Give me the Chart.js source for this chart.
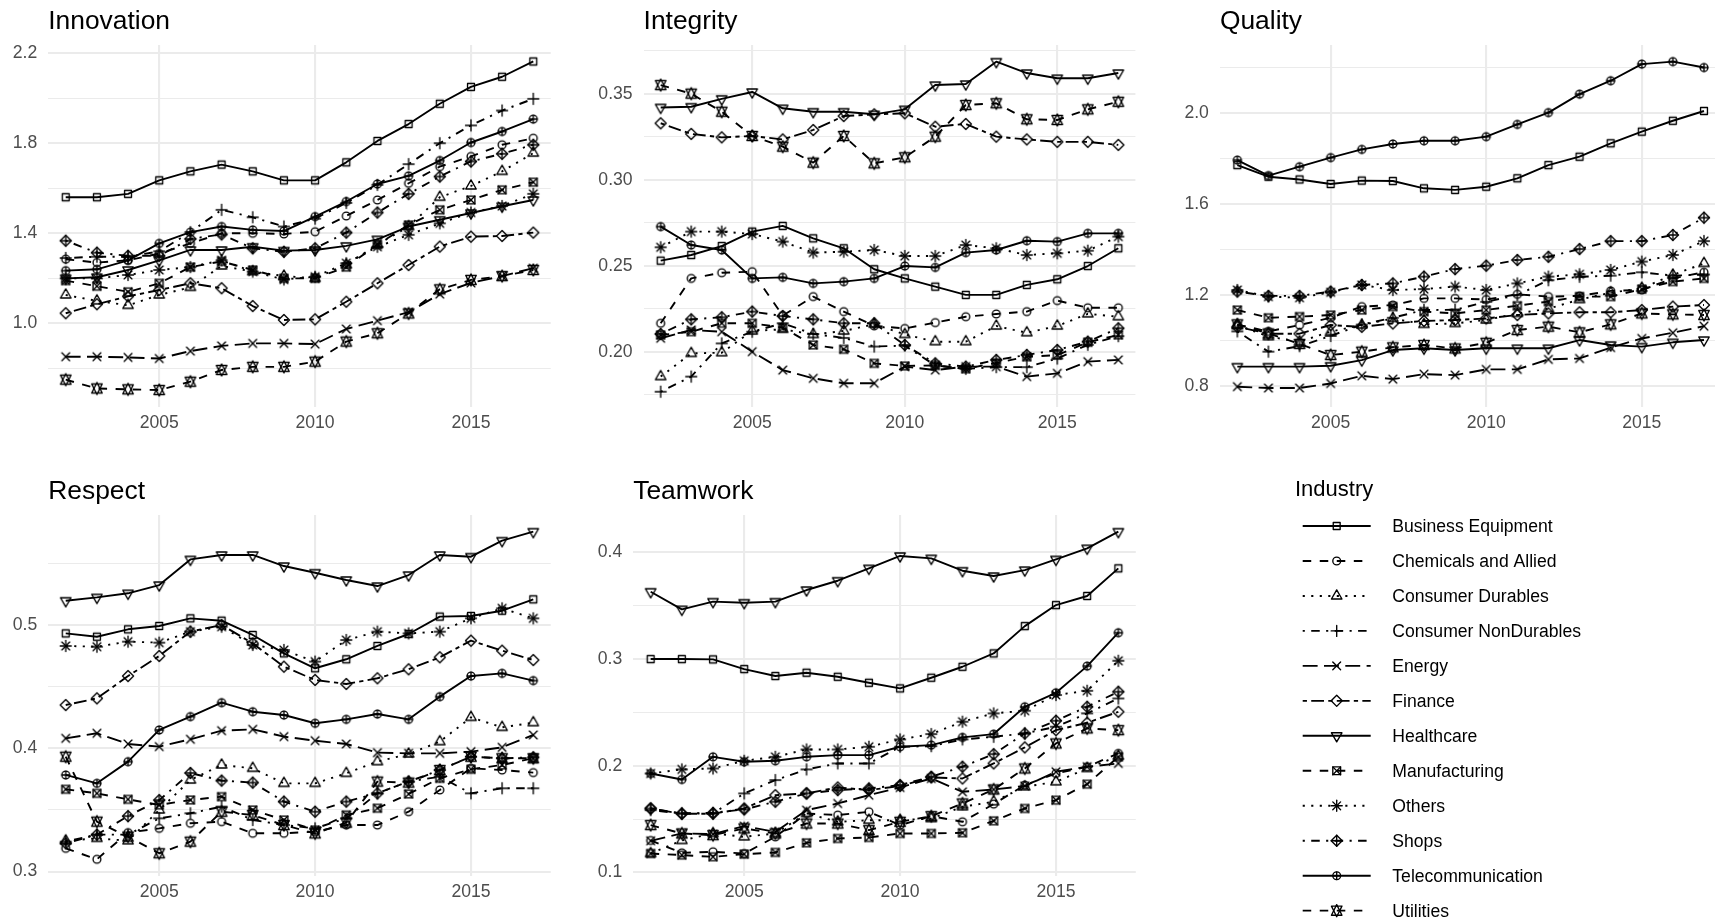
<!DOCTYPE html>
<html>
<head>
<meta charset="utf-8">
<script src="https://cdn.jsdelivr.net/npm/chart.js@4.4.1/dist/chart.umd.min.js"></script>
<style>
  html, body { margin: 0; padding: 0; background: #ffffff; width: 1715px; height: 922px; overflow: hidden; position: relative; }
  canvas { position: absolute; }
</style>
</head>
<body>
<canvas id="overlay" width="1715" height="922" style="left:0;top:0"></canvas>
<script>
// ---- data -----------------------------------------------------------------
const years = [2002, 2003, 2004, 2005, 2006, 2007, 2008, 2009, 2010, 2011, 2012, 2013, 2014, 2015, 2016, 2017];

const industries = [
  'Business Equipment', 'Chemicals and Allied', 'Consumer Durables', 'Consumer NonDurables',
  'Energy', 'Finance', 'Healthcare', 'Manufacturing', 'Others', 'Shops',
  'Telecommunication', 'Utilities'
];

const xTicks = [2005, 2010, 2015];

// one row per industry, in the order of `industries`
const innovation = [
  [1.56, 1.56, 1.575, 1.635, 1.675, 1.705, 1.675, 1.635, 1.635, 1.715, 1.81, 1.885, 1.975, 2.05, 2.095, 2.163],
  [1.285, 1.27, 1.28, 1.31, 1.355, 1.40, 1.40, 1.397, 1.407, 1.477, 1.548, 1.622, 1.696, 1.741, 1.793, 1.822],
  [1.126, 1.10, 1.08, 1.126, 1.16, 1.255, 1.23, 1.21, 1.20, 1.26, 1.35, 1.43, 1.56, 1.61, 1.675, 1.756],
  [1.29, 1.296, 1.296, 1.32, 1.405, 1.504, 1.471, 1.43, 1.465, 1.535, 1.615, 1.707, 1.80, 1.879, 1.945, 1.997],
  [0.852, 0.852, 0.849, 0.844, 0.877, 0.90, 0.911, 0.911, 0.908, 0.975, 1.012, 1.05, 1.13, 1.18, 1.21, 1.245],
  [1.045, 1.085, 1.12, 1.148, 1.178, 1.156, 1.077, 1.015, 1.018, 1.096, 1.178, 1.259, 1.341, 1.385, 1.388, 1.403],
  [1.20, 1.205, 1.237, 1.28, 1.326, 1.326, 1.34, 1.323, 1.326, 1.344, 1.373, 1.43, 1.46, 1.49, 1.52, 1.548],
  [1.19, 1.165, 1.14, 1.178, 1.25, 1.275, 1.237, 1.20, 1.20, 1.25, 1.35, 1.437, 1.504, 1.548, 1.593, 1.627],
  [1.20, 1.20, 1.215, 1.237, 1.25, 1.28, 1.23, 1.195, 1.207, 1.267, 1.34, 1.393, 1.444, 1.492, 1.521, 1.575],
  [1.367, 1.314, 1.30, 1.30, 1.375, 1.395, 1.333, 1.318, 1.333, 1.403, 1.492, 1.575, 1.652, 1.719, 1.753, 1.793],
  [1.234, 1.24, 1.28, 1.355, 1.405, 1.43, 1.415, 1.41, 1.474, 1.541, 1.619, 1.655, 1.723, 1.803, 1.852, 1.907],
  [0.75, 0.711, 0.707, 0.704, 0.741, 0.793, 0.807, 0.807, 0.83, 0.919, 0.956, 1.044, 1.151, 1.193, 1.21, 1.237]
];

const integrity = [
  [0.2529, 0.2562, 0.2614, 0.2698, 0.2731, 0.2659, 0.2601, 0.2479, 0.2426, 0.2378, 0.233, 0.233, 0.2388, 0.2421, 0.2498, 0.2601],
  [0.2165, 0.2426, 0.2459, 0.2465, 0.221, 0.232, 0.2233, 0.215, 0.2135, 0.2169, 0.2203, 0.2219, 0.2233, 0.2297, 0.2255, 0.2255],
  [0.1855, 0.199, 0.1994, 0.212, 0.213, 0.21, 0.212, 0.216, 0.210, 0.2058, 0.2058, 0.2149, 0.211, 0.2149, 0.222, 0.2203],
  [0.1767, 0.1855, 0.2048, 0.2116, 0.2165, 0.2103, 0.208, 0.203, 0.2035, 0.192, 0.19, 0.191, 0.191, 0.196, 0.204, 0.209],
  [0.2078, 0.2126, 0.2116, 0.20, 0.1893, 0.1845, 0.1816, 0.1816, 0.1913, 0.1893, 0.1913, 0.1913, 0.1855, 0.1874, 0.1942, 0.1952],
  [0.3328, 0.3266, 0.3246, 0.3254, 0.3234, 0.3289, 0.337, 0.338, 0.3386, 0.3308, 0.3324, 0.325, 0.3234, 0.322, 0.322, 0.3202],
  [0.342, 0.3424, 0.347, 0.351, 0.3415, 0.3395, 0.3395, 0.338, 0.3409, 0.355, 0.3556, 0.3686, 0.362, 0.359, 0.359, 0.362],
  [0.2097, 0.2116, 0.2165, 0.2165, 0.214, 0.2039, 0.2014, 0.1932, 0.1917, 0.192, 0.19, 0.1935, 0.197, 0.198, 0.2055, 0.2097],
  [0.2607, 0.2698, 0.2698, 0.2684, 0.264, 0.2576, 0.2581, 0.2591, 0.2556, 0.2556, 0.262, 0.2601, 0.2562, 0.2572, 0.2587, 0.2669],
  [0.2103, 0.2188, 0.22, 0.2233, 0.2207, 0.2188, 0.2165, 0.2165, 0.2039, 0.1932, 0.1913, 0.1952, 0.1981, 0.201, 0.2058, 0.2136],
  [0.2727, 0.262, 0.2591, 0.2426, 0.2432, 0.2397, 0.2407, 0.2426, 0.2498, 0.249, 0.2576, 0.2591, 0.2645, 0.264, 0.2688, 0.2688],
  [0.355, 0.350, 0.3395, 0.3254, 0.3192, 0.3099, 0.3254, 0.3095, 0.313, 0.325, 0.3434, 0.3444, 0.3351, 0.3347, 0.3409, 0.3453]
];

const quality = [
  [1.771, 1.72, 1.708, 1.688, 1.703, 1.701, 1.669, 1.662, 1.676, 1.713, 1.771, 1.808, 1.867, 1.918, 1.966, 2.009],
  [1.07, 1.04, 1.068, 1.10, 1.149, 1.156, 1.185, 1.185, 1.18, 1.203, 1.193, 1.196, 1.218, 1.222, 1.273, 1.30],
  [1.068, 1.017, 0.995, 1.039, 1.068, 1.097, 1.071, 1.075, 1.09, 1.119, 1.14, 1.18, 1.21, 1.23, 1.288, 1.339],
  [1.04, 0.951, 0.975, 1.02, 1.07, 1.10, 1.134, 1.135, 1.17, 1.20, 1.265, 1.28, 1.285, 1.30, 1.285, 1.29],
  [0.797, 0.791, 0.791, 0.811, 0.845, 0.83, 0.852, 0.848, 0.873, 0.873, 0.917, 0.921, 0.969, 1.009, 1.034, 1.063],
  [1.06, 1.03, 1.03, 1.068, 1.06, 1.075, 1.086, 1.09, 1.097, 1.112, 1.119, 1.124, 1.124, 1.134, 1.149, 1.156],
  [0.885, 0.885, 0.885, 0.889, 0.914, 0.958, 0.966, 0.958, 0.966, 0.966, 0.966, 1.002, 0.98, 0.973, 0.992, 1.002],
  [1.134, 1.10, 1.105, 1.112, 1.134, 1.149, 1.127, 1.119, 1.134, 1.153, 1.171, 1.193, 1.193, 1.226, 1.259, 1.273],
  [1.222, 1.193, 1.188, 1.212, 1.244, 1.222, 1.226, 1.237, 1.222, 1.251, 1.281, 1.291, 1.31, 1.347, 1.376, 1.437],
  [1.215, 1.196, 1.196, 1.215, 1.244, 1.251, 1.281, 1.314, 1.329, 1.354, 1.368, 1.402, 1.437, 1.437, 1.464, 1.54],
  [1.793, 1.725, 1.764, 1.804, 1.84, 1.864, 1.878, 1.878, 1.896, 1.95, 2.002, 2.083, 2.142, 2.215, 2.226, 2.20],
  [1.071, 1.031, 0.985, 0.936, 0.951, 0.97, 0.98, 0.965, 0.99, 1.046, 1.061, 1.036, 1.071, 1.119, 1.115, 1.112]
];

const respect = [
  [0.4932, 0.4905, 0.4965, 0.4992, 0.5054, 0.5035, 0.4919, 0.477, 0.4649, 0.4722, 0.483, 0.4927, 0.5068, 0.5073, 0.5116, 0.5208],
  [0.3189, 0.31, 0.3316, 0.3351, 0.3392, 0.3405, 0.3311, 0.3311, 0.3324, 0.3378, 0.3378, 0.3486, 0.3662, 0.3838, 0.3824, 0.3803],
  [0.325, 0.327, 0.325, 0.35, 0.3743, 0.3865, 0.3838, 0.3716, 0.3716, 0.3797, 0.3892, 0.3954, 0.4054, 0.4251, 0.417, 0.4208],
  [0.3243, 0.33, 0.33, 0.3432, 0.3473, 0.3527, 0.3419, 0.3378, 0.3351, 0.3432, 0.3635, 0.373, 0.377, 0.3635, 0.3676, 0.3676],
  [0.4081, 0.4122, 0.4035, 0.4014, 0.4073, 0.4143, 0.4154, 0.4095, 0.4062, 0.4035, 0.3965, 0.3959, 0.3959, 0.3973, 0.4008, 0.4108],
  [0.4351, 0.4405, 0.4586, 0.4749, 0.4946, 0.50, 0.4851, 0.4662, 0.4554, 0.4522, 0.4568, 0.4641, 0.4738, 0.4873, 0.4792, 0.4716],
  [0.5197, 0.5224, 0.5257, 0.5324, 0.5532, 0.5568, 0.5568, 0.5478, 0.5424, 0.5365, 0.5316, 0.5405, 0.5568, 0.5554, 0.5684, 0.5757],
  [0.3668, 0.3635, 0.3586, 0.3541, 0.3581, 0.3608, 0.35, 0.3419, 0.3338, 0.3459, 0.3514, 0.363, 0.3757, 0.383, 0.3865, 0.3919],
  [0.483, 0.4824, 0.4865, 0.4857, 0.4946, 0.4986, 0.4838, 0.4797, 0.4703, 0.4878, 0.4946, 0.4932, 0.4946, 0.5054, 0.5135, 0.5054],
  [0.323, 0.33, 0.345, 0.358, 0.38, 0.3738, 0.3722, 0.3568, 0.3486, 0.3568, 0.3635, 0.373, 0.3824, 0.3932, 0.3919, 0.3927],
  [0.3784, 0.3716, 0.3892, 0.4149, 0.4257, 0.437, 0.4297, 0.427, 0.4203, 0.4235, 0.4278, 0.4235, 0.4419, 0.4586, 0.4608, 0.4549],
  [0.3932, 0.3405, 0.3284, 0.3149, 0.3243, 0.3486, 0.3459, 0.3378, 0.331, 0.3397, 0.373, 0.3722, 0.3824, 0.3932, 0.3919, 0.3919]
];

const teamwork = [
  [0.30, 0.30, 0.2997, 0.2906, 0.2841, 0.2872, 0.2834, 0.2778, 0.2725, 0.2825, 0.2928, 0.3053, 0.3309, 0.3506, 0.3591, 0.385],
  [0.13, 0.1184, 0.1194, 0.1178, 0.1334, 0.1553, 0.1538, 0.1569, 0.1444, 0.1528, 0.1475, 0.1641, 0.1819, 0.1928, 0.1991, 0.2116],
  [0.1178, 0.13, 0.1366, 0.1334, 0.1366, 0.1553, 0.1475, 0.149, 0.149, 0.1506, 0.1616, 0.1663, 0.1803, 0.185, 0.1975, 0.2091],
  [0.1584, 0.1553, 0.1553, 0.1741, 0.1866, 0.1966, 0.2022, 0.2022, 0.2178, 0.2184, 0.2247, 0.2272, 0.2303, 0.2366, 0.2491, 0.2631],
  [0.1297, 0.1366, 0.136, 0.1434, 0.1381, 0.1584, 0.1647, 0.1725, 0.1797, 0.1881, 0.1756, 0.1778, 0.181, 0.1944, 0.1991, 0.2022],
  [0.16, 0.155, 0.155, 0.16, 0.1725, 0.1741, 0.1797, 0.1772, 0.181, 0.1891, 0.1881, 0.2022, 0.2172, 0.2334, 0.2403, 0.2506],
  [0.3631, 0.3466, 0.3538, 0.3528, 0.3538, 0.3647, 0.3734, 0.385, 0.3966, 0.3944, 0.3828, 0.3778, 0.3834, 0.3934, 0.4038, 0.4194],
  [0.1178, 0.1163, 0.1147, 0.1172, 0.1188, 0.1278, 0.1319, 0.1328, 0.1366, 0.1366, 0.1372, 0.1484, 0.16, 0.1678, 0.1828, 0.2084],
  [0.1928, 0.1966, 0.1975, 0.2047, 0.2084, 0.2153, 0.2153, 0.2178, 0.2247, 0.2297, 0.2413, 0.2491, 0.2516, 0.2663, 0.2703, 0.2984],
  [0.16, 0.1553, 0.1559, 0.1591, 0.1663, 0.1741, 0.1772, 0.1788, 0.1819, 0.1897, 0.1991, 0.2109, 0.2303, 0.2422, 0.2553, 0.2694],
  [0.1928, 0.1872, 0.2084, 0.2038, 0.2047, 0.2084, 0.21, 0.21, 0.2178, 0.2194, 0.2266, 0.2297, 0.2553, 0.2684, 0.2934, 0.3247],
  [0.1444, 0.1366, 0.135, 0.1413, 0.1366, 0.1459, 0.1459, 0.1397, 0.1475, 0.1528, 0.1647, 0.1778, 0.1975, 0.2209, 0.235, 0.2334]
];

// labelled y ticks and the unlabelled breaks between them
const innovationTicks = ['1.0', '1.4', '1.8', '2.2'];
const innovationMinor = [0.8, 1.2, 1.6, 2.0];
const integrityTicks = ['0.20', '0.25', '0.30', '0.35'];
const integrityMinor = [0.175, 0.225, 0.275, 0.325, 0.375];
const qualityTicks = ['0.8', '1.2', '1.6', '2.0'];
const qualityMinor = [1.0, 1.4, 1.8, 2.2];
const respectTicks = ['0.3', '0.4', '0.5'];
const respectMinor = [0.35, 0.45, 0.55];
const teamworkTicks = ['0.1', '0.2', '0.3', '0.4'];
const teamworkMinor = [0.15, 0.25, 0.35];

// ---- styling --------------------------------------------------------------
const FONT = "'Liberation Sans', Arial, Helvetica, sans-serif";
Chart.defaults.font.family = FONT;

const U = 2.13; // dash unit
const dashes = {
  solid: [],
  dashed: [4 * U, 4 * U],
  dotted: [1 * U, 3 * U],
  dotdash: [1 * U, 3 * U, 4 * U, 3 * U],
  longdash: [7 * U, 3 * U],
  twodash: [2 * U, 2 * U, 6 * U, 2 * U]
};
const lineTypes = ['solid', 'dashed', 'dotted', 'dotdash', 'longdash', 'twodash',
                   'solid', 'dashed', 'dotted', 'dotdash', 'solid', 'dashed'];
const shapes = [0, 1, 2, 3, 4, 5, 6, 7, 8, 9, 10, 11];

// plotting symbols: open square, circle, triangle, plus, cross, diamond,
// down triangle, boxed cross, asterisk, crossed diamond, crossed circle, double triangle
function drawShape(ctx, shape, x, y) {
  const r = 3.9;
  const tr = 1.5551203 * r, txc = 0.8660254 * tr, tyc = 0.5 * tr;
  const s2 = Math.SQRT2 * r;
  ctx.save();
  ctx.translate(x, y);
  ctx.strokeStyle = '#000';
  ctx.lineWidth = 1.35;
  ctx.lineJoin = 'round';
  ctx.lineCap = 'round';
  const poly = pts => {
    ctx.beginPath();
    pts.forEach(([a, b], i) => (i ? ctx.lineTo(a, b) : ctx.moveTo(a, b)));
    ctx.closePath();
    ctx.stroke();
  };
  const seg = (a, b, c, d) => { ctx.beginPath(); ctx.moveTo(a, b); ctx.lineTo(c, d); ctx.stroke(); };
  const circle = rad => { ctx.beginPath(); ctx.arc(0, 0, rad, 0, Math.PI * 2); ctx.stroke(); };
  switch (shape) {
    case 0: { const h = 0.8862269 * r; poly([[-h, -h], [h, -h], [h, h], [-h, h]]); break; }
    case 1: circle(r); break;
    case 2: poly([[0, -tr], [txc, tyc], [-txc, tyc]]); break;
    case 3: seg(-s2, 0, s2, 0); seg(0, -s2, 0, s2); break;
    case 4: seg(-r, -r, r, r); seg(-r, r, r, -r); break;
    case 5: poly([[0, -s2], [s2, 0], [0, s2], [-s2, 0]]); break;
    case 6: poly([[0, tr], [txc, -tyc], [-txc, -tyc]]); break;
    case 7: poly([[-r, -r], [r, -r], [r, r], [-r, r]]); seg(-r, -r, r, r); seg(-r, r, r, -r); break;
    case 8: seg(-r, -r, r, r); seg(-r, r, r, -r); seg(-s2, 0, s2, 0); seg(0, -s2, 0, s2); break;
    case 9: poly([[0, -s2], [s2, 0], [0, s2], [-s2, 0]]); seg(-s2, 0, s2, 0); seg(0, -s2, 0, s2); break;
    case 10: circle(r); seg(-r, 0, r, 0); seg(0, -r, 0, r); break;
    case 11: {
      const yc = 0.5 * (tyc + tr);
      poly([[0, -tr], [txc, yc], [-txc, yc]]);
      poly([[0, tr], [txc, -yc], [-txc, -yc]]);
      break;
    }
  }
  ctx.restore();
}

const markers = shapes.map(s => {
  const c = document.createElement('canvas');
  c.width = 18; c.height = 18;
  drawShape(c.getContext('2d'), s, 9, 9);
  return c;
});

// ---- panels ---------------------------------------------------------------
const X_MIN = 2001.44, X_MAX = 2017.56;
const GRID = '#EBEBEB';
const TICK_COLOR = '#4D4D4D';
const TICK_SIZE = 17.6;

const panels = [
  { title: 'Innovation', values: innovation, labels: innovationTicks, minor: innovationMinor,
    box: [48.25, 45, 550.75, 406.7], yMin: 0.63, yMax: 2.236 },
  { title: 'Integrity', values: integrity, labels: integrityTicks, minor: integrityMinor,
    box: [643.6, 45, 1135.4, 406.7], yMin: 0.168, yMax: 0.3783 },
  { title: 'Quality', values: quality, labels: qualityTicks, minor: qualityMinor,
    box: [1219.9, 45, 1721.4, 406.7], yMin: 0.709, yMax: 2.299 },
  { title: 'Respect', values: respect, labels: respectTicks, minor: respectMinor,
    box: [48.25, 515, 550.75, 875.7], yMin: 0.2967, yMax: 0.5892 },
  { title: 'Teamwork', values: teamwork, labels: teamworkTicks, minor: teamworkMinor,
    box: [633.2, 515, 1135.8, 875.7], yMin: 0.097, yMax: 0.435 }
];

function makePanel(p) {
  const [L, T, R, B] = p.box;
  const cl = Math.floor(L) - 70;
  const ct = Math.floor(T) - 30;
  const cw = Math.ceil(R) + 30 - cl;
  const ch = Math.ceil(B) + 42 - ct;
  const cv = document.createElement('canvas');
  cv.width = cw; cv.height = ch;
  cv.style.left = cl + 'px';
  cv.style.top = ct + 'px';
  document.body.appendChild(cv);

  const yAxisW = L - cl;
  const padTop = T - ct;
  const padRight = cl + cw - R;
  const xAxisH = ct + ch - B;

  const majors = p.labels.map(Number);
  const yTickValues = majors.concat(p.minor).sort((a, b) => a - b);
  const isMajor = v => majors.some(m => Math.abs(m - v) < 1e-9);
  const labelFor = v => {
    const i = majors.findIndex(m => Math.abs(m - v) < 1e-9);
    return i >= 0 ? p.labels[i] : '';
  };

  const datasets = [];
  p.values.forEach((row, i) => {
    const pts = years.map((yr, k) => ({ x: yr, y: row[k] }));
    datasets.push({
      label: industries[i],
      data: pts,
      showLine: true,
      borderColor: '#000000',
      backgroundColor: 'transparent',
      borderWidth: 1.9,
      borderDash: dashes[lineTypes[i]],
      borderCapStyle: 'butt',
      borderJoinStyle: 'round',
      tension: 0,
      pointRadius: 0,
      fill: false,
      order: 100 + (12 - i)
    });
  });
  p.values.forEach((row, i) => {
    const pts = years.map((yr, k) => ({ x: yr, y: row[k] }));
    datasets.push({
      label: industries[i] + ' points',
      data: pts,
      showLine: false,
      pointStyle: markers[i],
      pointRadius: 4,
      pointHoverRadius: 4,
      borderColor: '#000000',
      backgroundColor: 'transparent',
      order: 12 - i
    });
  });

  return new Chart(cv.getContext('2d'), {
    type: 'line',
    data: { datasets },
    options: {
      responsive: false,
      animation: false,
      devicePixelRatio: 1,
      events: [],
      layout: { autoPadding: false, padding: { left: 0, top: padTop, right: padRight, bottom: 0 } },
      plugins: { legend: { display: false }, tooltip: { enabled: false }, title: { display: false } },
      scales: {
        x: {
          type: 'linear',
          min: X_MIN,
          max: X_MAX,
          afterFit: s => { s.height = xAxisH; },
          afterBuildTicks: s => { s.ticks = xTicks.map(v => ({ value: v })); },
          border: { display: false },
          grid: { color: GRID, lineWidth: 2.1, drawTicks: false },
          ticks: {
            padding: 6,
            color: TICK_COLOR,
            font: { size: TICK_SIZE, family: FONT },
            maxRotation: 0,
            autoSkip: false,
            callback: v => String(v)
          }
        },
        y: {
          type: 'linear',
          min: p.yMin,
          max: p.yMax,
          afterFit: s => { s.width = yAxisW; },
          afterBuildTicks: s => { s.ticks = yTickValues.map(v => ({ value: v })); },
          border: { display: false },
          grid: {
            color: GRID,
            lineWidth: ctx => (ctx.tick && isMajor(ctx.tick.value) ? 2.1 : 1.05),
            drawTicks: false
          },
          ticks: {
            padding: 11,
            color: TICK_COLOR,
            font: { size: TICK_SIZE, family: FONT },
            autoSkip: false,
            callback: v => labelFor(v)
          }
        }
      }
    }
  });
}

panels.forEach(makePanel);

// ---- titles and legend ----------------------------------------------------
const ov = document.getElementById('overlay').getContext('2d');
ov.fillStyle = '#000';
ov.textBaseline = 'alphabetic';
ov.font = `26.4px ${FONT}`;
panels.forEach(p => ov.fillText(p.title, p.box[0], p.box[1] - 16.5));

ov.font = `22px ${FONT}`;
ov.fillText('Industry', 1295, 495.5);

const KEY_X0 = 1302.7, KEY_X1 = 1370.7, KEY_MID = 1336.7, KEY_Y0 = 526, KEY_DY = 34.97;
industries.forEach((name, i) => {
  const y = KEY_Y0 + i * KEY_DY;
  ov.save();
  ov.strokeStyle = '#000';
  ov.lineWidth = 1.9;
  ov.lineCap = 'butt';
  ov.setLineDash(dashes[lineTypes[i]]);
  ov.beginPath();
  ov.moveTo(KEY_X0, y);
  ov.lineTo(KEY_X1, y);
  ov.stroke();
  ov.restore();
  drawShape(ov, shapes[i], KEY_MID, y);
  ov.fillStyle = '#000';
  ov.font = `17.6px ${FONT}`;
  ov.fillText(name, 1392.3, y + 6.2);
});
</script>
</body>
</html>
